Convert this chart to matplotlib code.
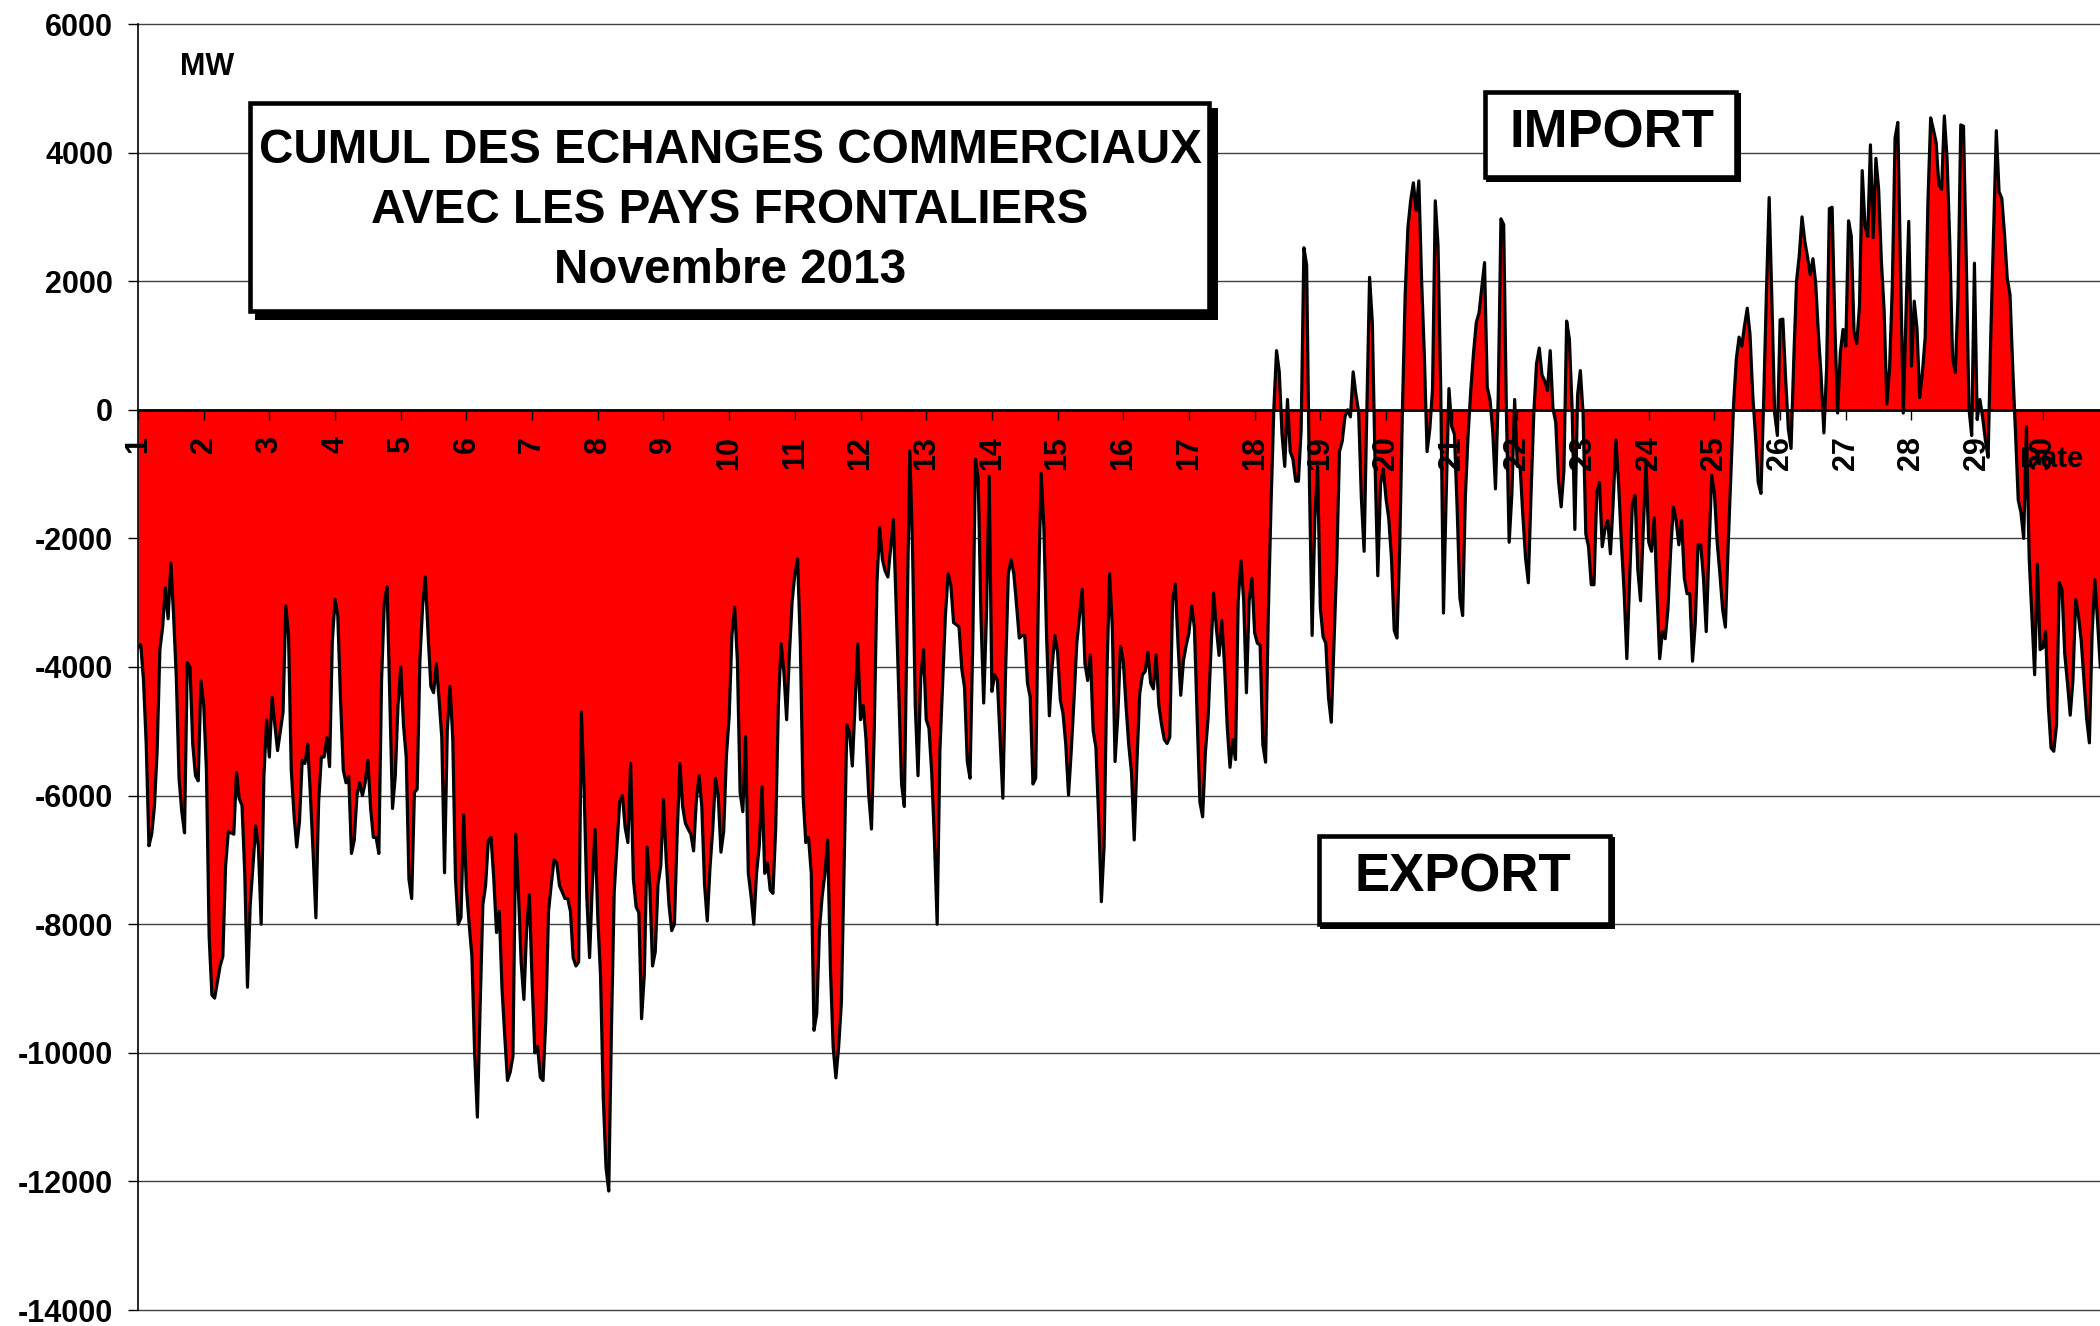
import matplotlib
matplotlib.use("Agg")
import matplotlib.pyplot as plt
from matplotlib.patches import Rectangle
import numpy as np

# solde horaire des echanges (MW), un tableau par jour de novembre 2013
d01 = [-3700, -3650, -4200, -5200, -6780, -6600, -6170, -5300, -3730, -3380, -2770, -3250, -2380, -3200, -4160, -5730, -6250, -6580, -3930, -4000, -5200, -5690, -5770, -4220]
d02 = [-4580, -5600, -8200, -9100, -9150, -8900, -8650, -8500, -7100, -6560, -6580, -6600, -5640, -6050, -6150, -7200, -8980, -7700, -7100, -6470, -6800, -8000, -5700, -4820]
d03 = [-5400, -4470, -4900, -5300, -5000, -4700, -3050, -3500, -5600, -6300, -6800, -6400, -5450, -5500, -5200, -6000, -6900, -7900, -6100, -5400, -5400, -5100, -5550, -3600]
d04 = [-2950, -3200, -4500, -5600, -5800, -5700, -6900, -6700, -6000, -5800, -6000, -5800, -5450, -6200, -6650, -6650, -6900, -4200, -3000, -2750, -4500, -6200, -5700, -4600]
d05 = [-4000, -4900, -5400, -7300, -7600, -5950, -5900, -3900, -3050, -2600, -3500, -4300, -4400, -3950, -4500, -5100, -7200, -5000, -4300, -5100, -7300, -8000, -7900, -6300]
d06 = [-7430, -8000, -8500, -10000, -11000, -9300, -7700, -7400, -6700, -6650, -7300, -8130, -7800, -9000, -9740, -10430, -10300, -10050, -6600, -7500, -8600, -9170, -8080, -7540]
d07 = [-8900, -10000, -9900, -10380, -10430, -9500, -7800, -7380, -7000, -7050, -7400, -7500, -7600, -7600, -7800, -8520, -8650, -8590, -4700, -5900, -7600, -8520, -7380, -6530]
d08 = [-7900, -8800, -10700, -11780, -12150, -9600, -7500, -6780, -6100, -6000, -6500, -6730, -5500, -7300, -7730, -7820, -9470, -8780, -6800, -7400, -8650, -8430, -7380, -7100]
d09 = [-6060, -7000, -7690, -8100, -8000, -6600, -5500, -6170, -6430, -6520, -6600, -6860, -6080, -5690, -6170, -7380, -7950, -7120, -6520, -5730, -6000, -6880, -6560, -5380]
d10 = [-4770, -3510, -3070, -3900, -5950, -6250, -5080, -7210, -7560, -8000, -7210, -6780, -5860, -7210, -7050, -7470, -7520, -6520, -4560, -3640, -4080, -4820, -3810, -2990]
d11 = [-2550, -2320, -3640, -6000, -6730, -6650, -7210, -9650, -9390, -8080, -7560, -7210, -6690, -8690, -9910, -10390, -9910, -9220, -7120, -4900, -5030, -5540, -4600, -3640]
d12 = [-4820, -4600, -5120, -5990, -6520, -5030, -2680, -1830, -2330, -2510, -2600, -2160, -1710, -3030, -4420, -5820, -6170, -3290, -640, -2160, -4600, -5690, -4160, -3730]
d13 = [-4820, -4950, -5640, -6690, -8000, -5300, -4250, -3210, -2550, -2730, -3310, -3340, -3380, -4030, -4320, -5470, -5730, -3640, -770, -1070, -3210, -4560, -3210, -1030]
d14 = [-4380, -4120, -4210, -5120, -6040, -4070, -2550, -2330, -2550, -3030, -3550, -3510, -3510, -4250, -4470, -5820, -5730, -2860, -990, -1850, -3550, -4760, -3990, -3510]
d15 = [-3770, -4510, -4730, -5210, -5990, -5300, -4510, -3640, -3210, -2790, -3950, -4210, -3810, -4990, -5250, -6340, -7650, -6780, -4160, -2550, -3380, -5470, -4770, -3680]
d16 = [-3900, -4600, -5210, -5640, -6690, -5470, -4420, -4120, -4070, -3770, -4250, -4340, -3810, -4600, -4900, -5130, -5190, -5090, -2970, -2710, -3630, -4440, -3900, -3660]
d17 = [-3470, -3050, -3390, -4790, -6100, -6330, -5330, -4790, -3780, -2850, -3390, -3820, -3280, -3980, -4940, -5560, -5130, -5440, -2970, -2350, -2970, -4400, -2970, -2620]
d18 = [-3470, -3630, -3660, -5210, -5480, -3160, -1460, 0, 920, 590, -380, -880, 160, -650, -770, -1110, -1110, -300, 2520, 2250, -1070, -3510, -1690, -880]
d19 = [-3080, -3530, -3630, -4480, -4860, -3630, -2390, -650, -490, -110, 0, -110, 590, 240, -30, -1380, -2200, 0, 2060, 1360, -840, -2580, -1150, -920]
d20 = [-1380, -1690, -2310, -3430, -3550, -2160, 0, 1790, 2830, 3250, 3530, 3100, 3560, 2020, 860, -650, -300, 320, 3250, 2560, 320, -3160, -1310, 330]
d21 = [-260, -380, -1540, -2930, -3200, -1350, -380, 320, 900, 1360, 1510, 1900, 2290, 350, 160, -340, -1230, 200, 2970, 2880, -50, -2060, -1300, 160]
d22 = [-880, -880, -1650, -2310, -2690, -1300, -50, 720, 960, 540, 450, 300, 920, 20, -190, -1090, -1510, -950, 1380, 1100, 20, -1860, 230, 610]
d23 = [-50, -1930, -2130, -2720, -2720, -1300, -1130, -2130, -1860, -1720, -2240, -1440, -470, -1160, -2060, -2830, -3870, -2690, -1470, -1330, -2480, -2970, -1860, -810]
d24 = [-2060, -2200, -1680, -2830, -3870, -3450, -3560, -3110, -2200, -1510, -1720, -2100, -1720, -2620, -2860, -2860, -3910, -3320, -2100, -2100, -2620, -3450, -2200, -1020]
d25 = [-1300, -2060, -2550, -3110, -3380, -2130, -1020, 90, 790, 1130, 990, 1310, 1580, 1170, 230, -400, -1130, -1300, 160, 1830, 3300, 1690, -50, -400]
d26 = [1400, 1410, 500, -300, -600, 800, 2000, 2400, 3000, 2630, 2380, 2100, 2350, 1970, 1170, 510, -360, 650, 3130, 3150, 1340, -50, 890, 1250]
d27 = [990, 2940, 2700, 1220, 1030, 1620, 3720, 2870, 2700, 4120, 2680, 3910, 3430, 2310, 1550, 90, 650, 1930, 4230, 4470, 2200, -50, 1500, 2930]
d28 = [680, 1690, 1270, 190, 580, 1130, 3220, 4540, 4360, 4160, 3500, 3430, 4570, 3910, 2590, 820, 580, 1760, 4430, 4410, 2380, 20, -400, 2280]
d29 = [-150, 160, -120, -470, -740, 1200, 2800, 4340, 3390, 3290, 2730, 2040, 1790, 650, -350, -1400, -1600, -2000, -260, -2300, -3200, -4120, -2400, -3730]
d30 = [-3700, -3450, -4600, -5260, -5310, -4900, -2690, -2800, -3800, -4250, -4750, -4200, -2950, -3200, -3580, -4200, -4800, -5180, -3470, -2640, -3300, -4000]

jours = list(range(1, 31))
graduations = list(range(-14000, 6001, 2000))

titre = ["CUMUL DES ECHANGES COMMERCIAUX", "AVEC LES PAYS FRONTALIERS", "Novembre 2013"]

W, H = 2100, 1326

plt.rcParams['font.family'] = ['Liberation Sans', 'DejaVu Sans']
plt.rcParams['font.weight'] = 'bold'
plt.rcParams['axes.unicode_minus'] = False

echanges = [d01, d02, d03, d04, d05, d06, d07, d08, d09, d10,
            d11, d12, d13, d14, d15, d16, d17, d18, d19, d20,
            d21, d22, d23, d24, d25, d26, d27, d28, d29, d30]
x = np.concatenate([j + np.arange(len(v)) / 24 for j, v in zip(jours, echanges)])
mw = np.concatenate([np.array(v, dtype=float) for v in echanges])


def fx(px):
    return px / W


def fy(py):
    return 1 - py / H


def boite(x0, y0, x1, y1, ombre, lw):
    # ombre portee noire puis cadre blanc
    fig.add_artist(Rectangle((fx(x0 + ombre), fy(y1 + ombre)), fx(x1 - x0), (y1 - y0) / H,
                             transform=fig.transFigure, facecolor='black', edgecolor='none', zorder=2))
    m = lw * 100 / 72 / 2
    fig.add_artist(Rectangle((fx(x0 + m), fy(y1 - m)), fx(x1 - x0 - 2 * m), (y1 - y0 - 2 * m) / H,
                             transform=fig.transFigure, facecolor='white', edgecolor='black',
                             linewidth=lw, zorder=2.1))


fig = plt.figure(figsize=(W / 100, H / 100), dpi=100)
ax = fig.add_axes([fx(138), 16 / H, fx(W - 138), 1286 / H])

for g in graduations:
    ax.axhline(g, color='#404040', lw=1.0, zorder=0.5, clip_on=False)

ax.fill_between(x, mw, 0, color='#ff0000', lw=0, zorder=1)
ax.plot(x, mw, color='black', lw=2.3, zorder=2)

ax.set_xlim(1, 30.87)
ax.set_ylim(-14000, 6000)
ax.set_xticks(jours)
ax.set_yticks(graduations)
ax.set_axisbelow(False)

ax.spines['top'].set_visible(False)
ax.spines['right'].set_visible(False)
ax.spines['bottom'].set_position(('data', 0))
ax.spines['bottom'].set_linewidth(2.0)
ax.spines['left'].set_linewidth(1.2)
ax.tick_params(axis='x', direction='out', length=7, width=1.0, pad=12, labelsize=22, labelrotation=90)
ax.tick_params(axis='y', direction='out', length=7, width=1.0, pad=11, labelsize=22)

fig.text(fx(180), fy(75), 'MW', fontsize=22, ha='left', va='baseline')
fig.text(fx(2052), fy(467), 'Date', fontsize=21, ha='center', va='baseline', zorder=5)

boite(248, 101, 1211, 313, 7, 3.3)
for i, ligne in enumerate(titre):
    fig.text(fx(730), fy(163 + 60 * i), ligne, fontsize=34.3, ha='center', va='baseline', zorder=5)

boite(1483, 90, 1738, 179, 3, 3.3)
fig.text(fx(1612), fy(147), 'IMPORT', fontsize=38, ha='center', va='baseline', zorder=5)

boite(1317, 834, 1612, 926, 3, 3.3)
fig.text(fx(1463), fy(892), 'EXPORT', fontsize=38, ha='center', va='baseline', zorder=5)

fig.savefig('out.png', dpi=100)
